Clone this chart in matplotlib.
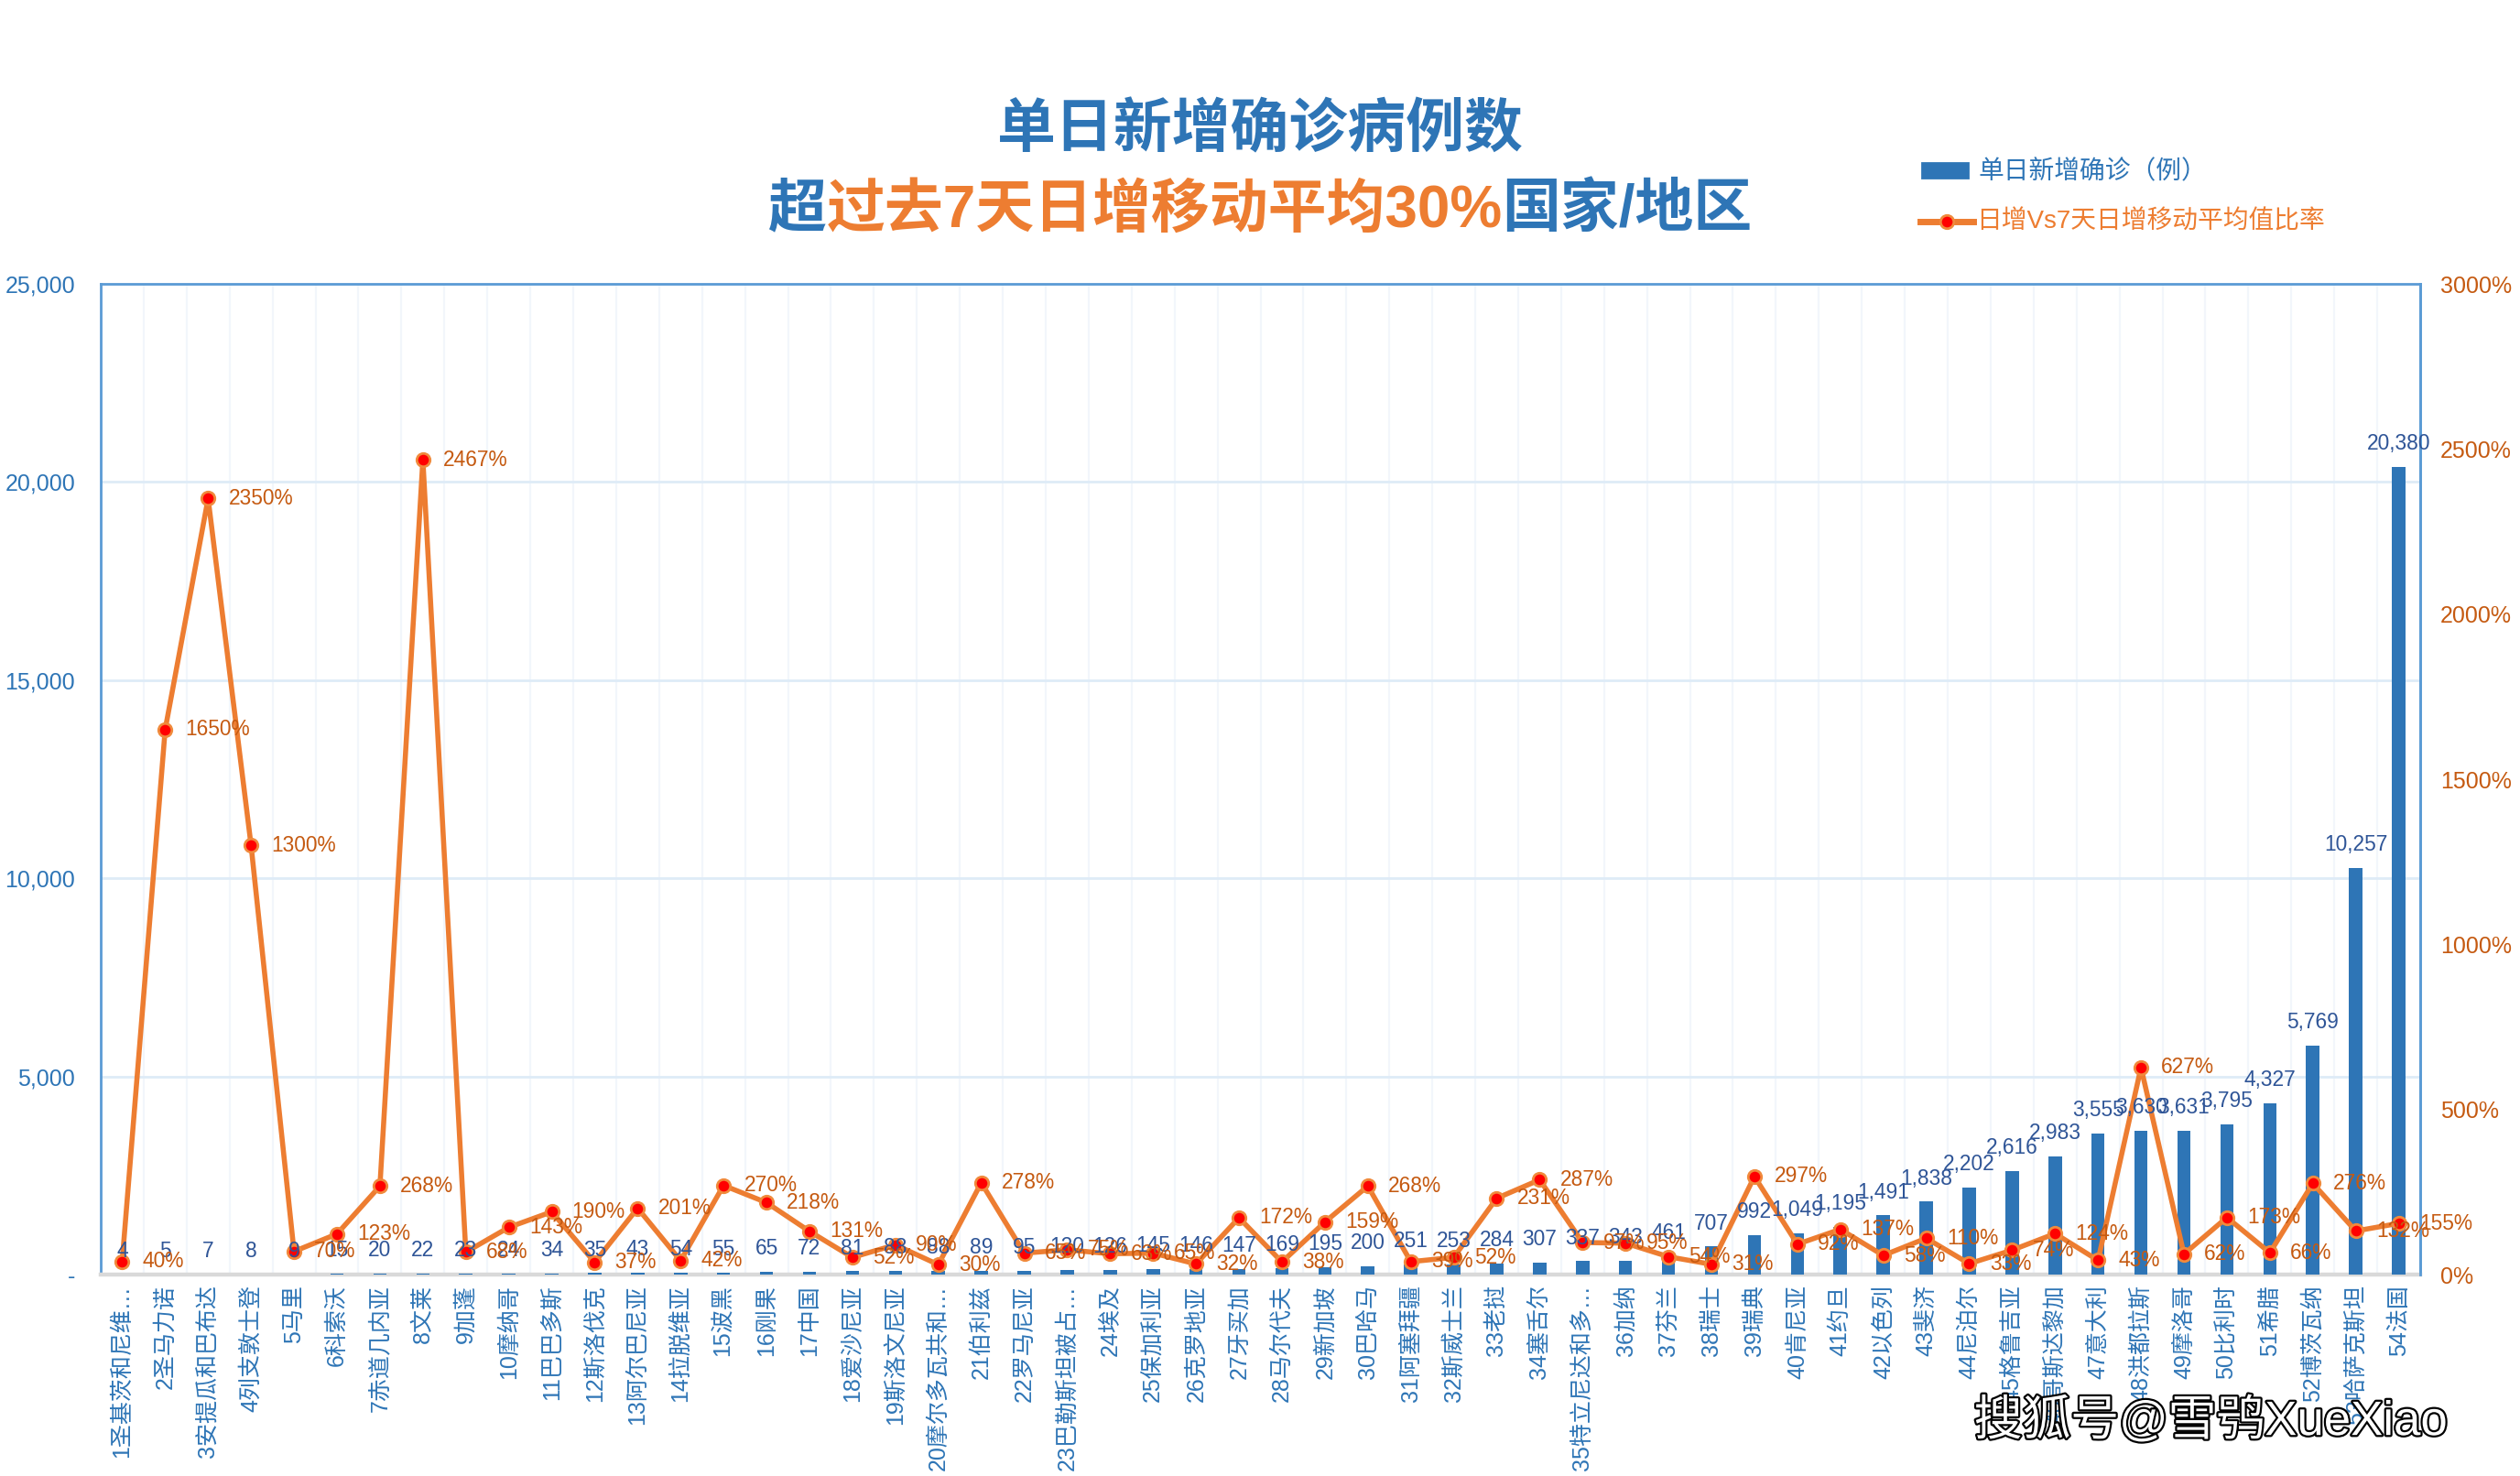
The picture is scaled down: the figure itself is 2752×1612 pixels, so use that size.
import numpy as np
import matplotlib
matplotlib.use("Agg")
import matplotlib.pyplot as plt
from matplotlib.lines import Line2D
from matplotlib.patches import Rectangle
import matplotlib.patheffects as pe

plt.rcParams['font.family'] = ['Liberation Sans', 'Noto Sans CJK SC', 'DejaVu Sans']

countries = ["1圣基茨和尼维…", "2圣马力诺", "3安提瓜和巴布达", "4列支敦士登", "5马里", "6科索沃",
             "7赤道几内亚", "8文莱", "9加蓬", "10摩纳哥", "11巴巴多斯", "12斯洛伐克",
             "13阿尔巴尼亚", "14拉脱维亚", "15波黑", "16刚果", "17中国", "18爱沙尼亚",
             "19斯洛文尼亚", "20摩尔多瓦共和…", "21伯利兹", "22罗马尼亚", "23巴勒斯坦被占…", "24埃及",
             "25保加利亚", "26克罗地亚", "27牙买加", "28马尔代夫", "29新加坡", "30巴哈马",
             "31阿塞拜疆", "32斯威士兰", "33老挝", "34塞舌尔", "35特立尼达和多…", "36加纳",
             "37芬兰", "38瑞士", "39瑞典", "40肯尼亚", "41约旦", "42以色列",
             "43斐济", "44尼泊尔", "45格鲁吉亚", "46哥斯达黎加", "47意大利", "48洪都拉斯",
             "49摩洛哥", "50比利时", "51希腊", "52博茨瓦纳", "53哈萨克斯坦", "54法国"]

new_cases = [4, 5, 7, 8, 9, 15, 20, 22, 23, 24, 34, 35,
             43, 54, 55, 65, 72, 81, 88, 88, 89, 95, 120, 126,
             145, 146, 147, 169, 195, 200, 251, 253, 284, 307, 337, 343,
             461, 707, 992, 1049, 1195, 1491, 1838, 2202, 2616, 2983, 3555, 3630,
             3631, 3795, 4327, 5769, 10257, 20380]

ratio_pct = [40, 1650, 2350, 1300, 70, 123, 268, 2467, 68, 143, 190, 37,
             201, 42, 270, 218, 131, 52, 90, 30, 278, 65, 75, 63,
             65, 32, 172, 38, 159, 268, 39, 52, 231, 287, 97, 95,
             54, 31, 297, 92, 137, 58, 110, 33, 74, 124, 43, 627,
             62, 173, 66, 276, 132, 155]

left_ticks = [0, 5000, 10000, 15000, 20000, 25000]
right_ticks = [0, 500, 1000, 1500, 2000, 2500, 3000]

title1 = "单日新增确诊病例数"
title2_parts = [("超", "#2E75B6"), ("过去7天日增移动平均30%", "#ED7D31"), ("国家/地区", "#2E75B6")]
legend_bar = "单日新增确诊（例）"
legend_line = "日增Vs7天日增移动平均值比率"
watermark = "搜狐号@雪鸮XueXiao"

BLUE = "#2E75B6"
DBLUE = "#2F5597"
ORANGE = "#ED7D31"
DORANGE = "#C55A11"

W, H = 2752, 1612
fig = plt.figure(figsize=(W / 200, H / 200), dpi=200)
L, R, T, B = 110, 2643, 310, 1392
ax = fig.add_axes([L / W, 1 - B / H, (R - L) / W, (B - T) / H])

x = np.arange(1, len(countries) + 1)
ax.bar(x, new_cases, width=0.31, color=BLUE, zorder=3)
ax.set_xlim(0.5, len(countries) + 0.5)
ax.set_ylim(0, 25000)
ax.set_yticks(left_ticks)
ax.set_yticklabels(["-" if v == 0 else f"{v:,}" for v in left_ticks])
ax.set_xticks(x)
ax.set_xticklabels(countries, rotation=90, ha='center', va='top')
ax.set_xticks(np.arange(1.5, len(countries), 1), minor=True)
ax.tick_params(axis='x', which='both', length=0, pad=4, labelsize=9.0, labelcolor=BLUE)
ax.tick_params(axis='y', length=0, pad=10, labelsize=9.0, labelcolor=BLUE)
ax.grid(axis='y', which='major', color='#DEEBF7', lw=1.0, zorder=0)
ax.grid(axis='x', which='minor', color='#F2F6FB', lw=0.8, zorder=0)
ax.grid(axis='x', which='major', visible=False)
ax.set_axisbelow(True)
for s in ['top', 'left', 'right']:
    ax.spines[s].set_color('#5B9BD5')
    ax.spines[s].set_linewidth(1.0)
ax.spines['bottom'].set_color('#D9D9D9')
ax.spines['bottom'].set_linewidth(1.6)

ax2 = ax.twinx()
ax2.plot(x, ratio_pct, color=ORANGE, lw=2.0, marker='o', ms=5.2,
         mfc='#FF0000', mec='#F08A3C', mew=1.0, zorder=4, solid_joinstyle='round')
ax2.set_ylim(0, 3000)
ax2.set_yticks(right_ticks)
ax2.set_yticklabels([f"{v}%" for v in right_ticks])
ax2.tick_params(axis='y', length=0, pad=8, labelsize=9.0, labelcolor=DORANGE)
for s in ['top', 'left', 'bottom']:
    ax2.spines[s].set_visible(False)
ax2.spines['right'].set_color('#5B9BD5')
ax2.spines['right'].set_linewidth(1.0)

for xi, v in zip(x, new_cases):
    ax2.annotate(f"{v:,}", xy=(xi, v), xycoords=ax.transData, xytext=(0, 5),
                 textcoords='offset points', ha='center', va='bottom',
                 fontsize=8.2, color=DBLUE, zorder=5)
for xi, r in zip(x, ratio_pct):
    ax2.annotate(f"{r}%", xy=(xi, r), xytext=(8, 0), textcoords='offset points',
                 ha='left', va='center', fontsize=8.2, color=DORANGE, zorder=5)

# Titles
fig.text(0.5, 1 - 143 / H, title1, ha='center', va='center', fontsize=23,
         fontweight='bold', color=BLUE)
fig.canvas.draw()
renderer = fig.canvas.get_renderer()
pieces = []
total = 0
for txt, col in title2_parts:
    t = fig.text(0, 1 - 230 / H, txt, ha='left', va='center', fontsize=23,
                 fontweight='bold', color=col)
    w = t.get_window_extent(renderer).width
    pieces.append((t, w))
    total += w
start = 1376 - total / 2
for t, w in pieces:
    t.set_x(start / W)
    start += w

# Legend
fig.add_artist(Rectangle((2099 / W, 1 - 194 / H), 50 / W, 16 / H,
                         transform=fig.transFigure, color=BLUE))
fig.text(2160 / W, 1 - 188 / H, legend_bar, ha='left', va='center', fontsize=10, color=BLUE)
fig.add_artist(Line2D([2097 / W, 2155 / W], [1 - 242 / H, 1 - 242 / H],
                      transform=fig.transFigure, color=ORANGE, lw=2.5))
fig.add_artist(Line2D([2126 / W], [1 - 242 / H], transform=fig.transFigure,
                      marker='o', ms=5.2, mfc='#FF0000', mec='#F08A3C', mew=1.0, lw=0))
fig.text(2158 / W, 1 - 242 / H, legend_line, ha='left', va='center', fontsize=10, color=ORANGE)

# Watermark
fig.text(2414 / W, 1 - 1552 / H, watermark, ha='center', va='center', fontsize=19,
         color='white', zorder=10,
         path_effects=[pe.withStroke(linewidth=1.6, foreground='black')])

fig.savefig("out.png", dpi=200, facecolor='white')
